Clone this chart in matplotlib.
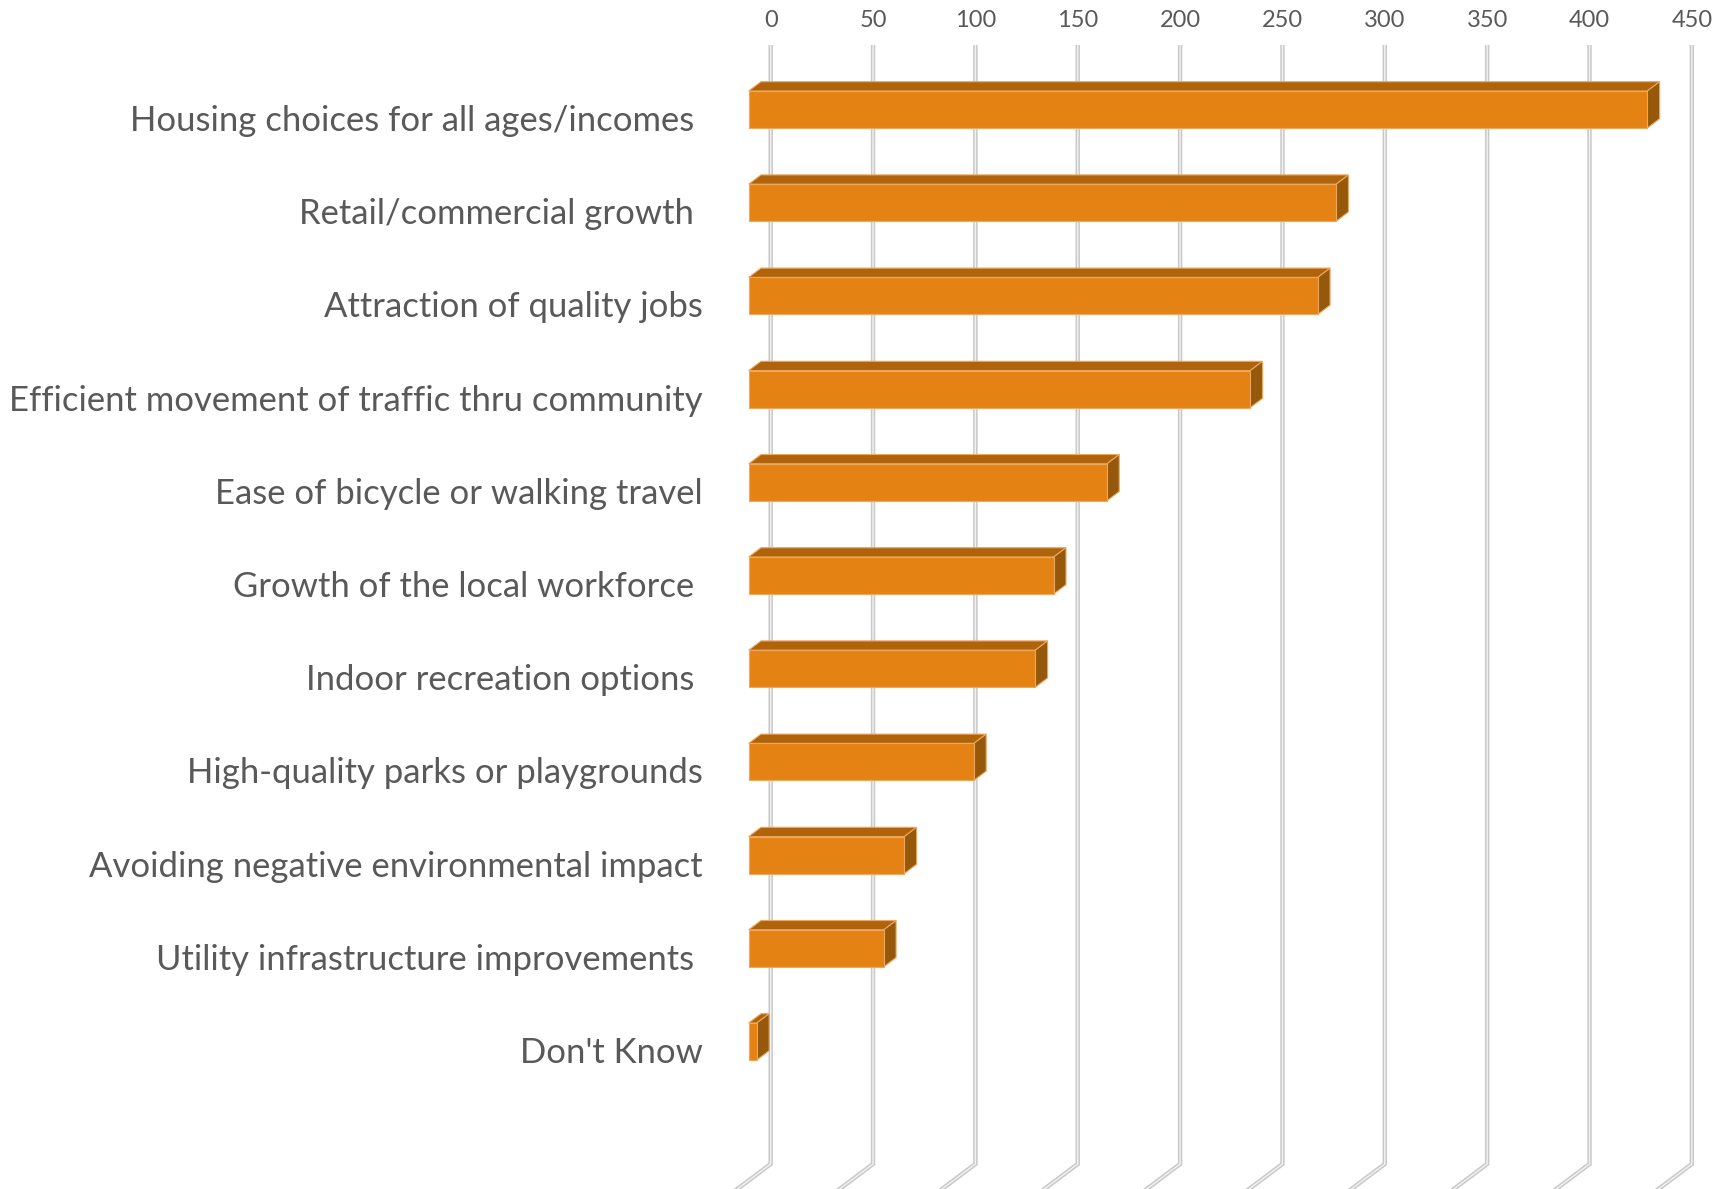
"""Bar chart 3-D style (Excel look) — priorities, nombre de réponses."""
import matplotlib
matplotlib.use("Agg")
import matplotlib.pyplot as plt
from matplotlib.patches import Polygon

categories = [
    "Housing choices for all ages/incomes ",
    "Retail/commercial growth ",
    "Attraction of quality jobs",
    "Efficient movement of traffic thru community",
    "Ease of bicycle or walking travel",
    "Growth of the local workforce ",
    "Indoor recreation options ",
    "High-quality parks or playgrounds",
    "Avoiding negative environmental impact",
    "Utility infrastructure improvements ",
    "Don't Know",
]
counts = [439, 287, 278, 245, 175, 149, 140, 110, 76, 66, 4]
ticks = list(range(0, 451, 50))

# geometry of the plot area, in pixels of the 1734x1189 picture
W, H = 1734, 1189
PX_UNIT = 2.047      # px per count
PX_ROW = 93.2        # px between bars
ZERO_PX = 770.7      # back-wall zero line
ROW0_PX = 109.5      # centre of first front face
TOP_PX = 45
FLOOR_PX = 1164
BAR_H = 37 / PX_ROW
FRONT_DX = -22 / PX_UNIT               # front face shift from the wall
DEPTH = (12.3 / PX_UNIT, -9.3 / PX_ROW)  # front -> back of a bar
FLOOR = (-40 / PX_UNIT, 30 / PX_ROW)     # slant of the floor

FRONT_C, TOP_C, SIDE_C = "#E58214", "#AF640C", "#96580A"
EDGE_C = "#EDA75E"
TEXT_C = "#595959"

fig = plt.figure(figsize=(W / 100, H / 100), dpi=100)
ax = fig.add_axes([0, 0, 1, 1 - TOP_PX / H])
ax.set_xlim(-ZERO_PX / PX_UNIT, (W - ZERO_PX) / PX_UNIT)
ax.set_ylim((H - ROW0_PX) / PX_ROW, (TOP_PX - ROW0_PX) / PX_ROW)
for s in ax.spines.values():
    s.set_visible(False)

# gridlines: back wall + floor
y_top = (TOP_PX - ROW0_PX) / PX_ROW
y_floor = (FLOOR_PX - ROW0_PX) / PX_ROW
for t in ticks:
    xs = [t, t, t + FLOOR[0]]
    ys = [y_top, y_floor, y_floor + FLOOR[1]]
    ax.plot(xs, ys, color="#c9c9c9", lw=3.2, solid_joinstyle="miter", zorder=1)
    ax.plot(xs, ys, color="#f2f2f2", lw=1.0, solid_joinstyle="miter", zorder=1.1)

# bars: front, top, side faces
dx, dy = DEPTH
for i, v in enumerate(counts):
    x0, x1 = FRONT_DX, FRONT_DX + v
    yt, yb = i - BAR_H / 2, i + BAR_H / 2
    front = [(x0, yt), (x1, yt), (x1, yb), (x0, yb)]
    top = [(x0, yt), (x1, yt), (x1 + dx, yt + dy), (x0 + dx, yt + dy)]
    side = [(x1, yt), (x1 + dx, yt + dy), (x1 + dx, yb + dy), (x1, yb)]
    for pts, c in [(top, TOP_C), (side, SIDE_C), (front, FRONT_C)]:
        ax.add_patch(Polygon(pts, closed=True, facecolor=c, edgecolor=EDGE_C,
                             lw=0.8, joinstyle="miter", zorder=3))

# category labels
lab_x = (703 - ZERO_PX) / PX_UNIT
for i, name in enumerate(categories):
    ax.text(lab_x, i + 11.5 / PX_ROW, name, ha="right", va="center",
            fontsize=24.9, family="Lato", color=TEXT_C)

ax.set_yticks([])
ax.xaxis.tick_top()
ax.set_xticks(ticks)
ax.set_xticklabels([str(t) for t in ticks], fontsize=17, family="Lato", color=TEXT_C)
ax.tick_params(axis="x", length=0, pad=10)

fig.savefig("out.png", dpi=100)
